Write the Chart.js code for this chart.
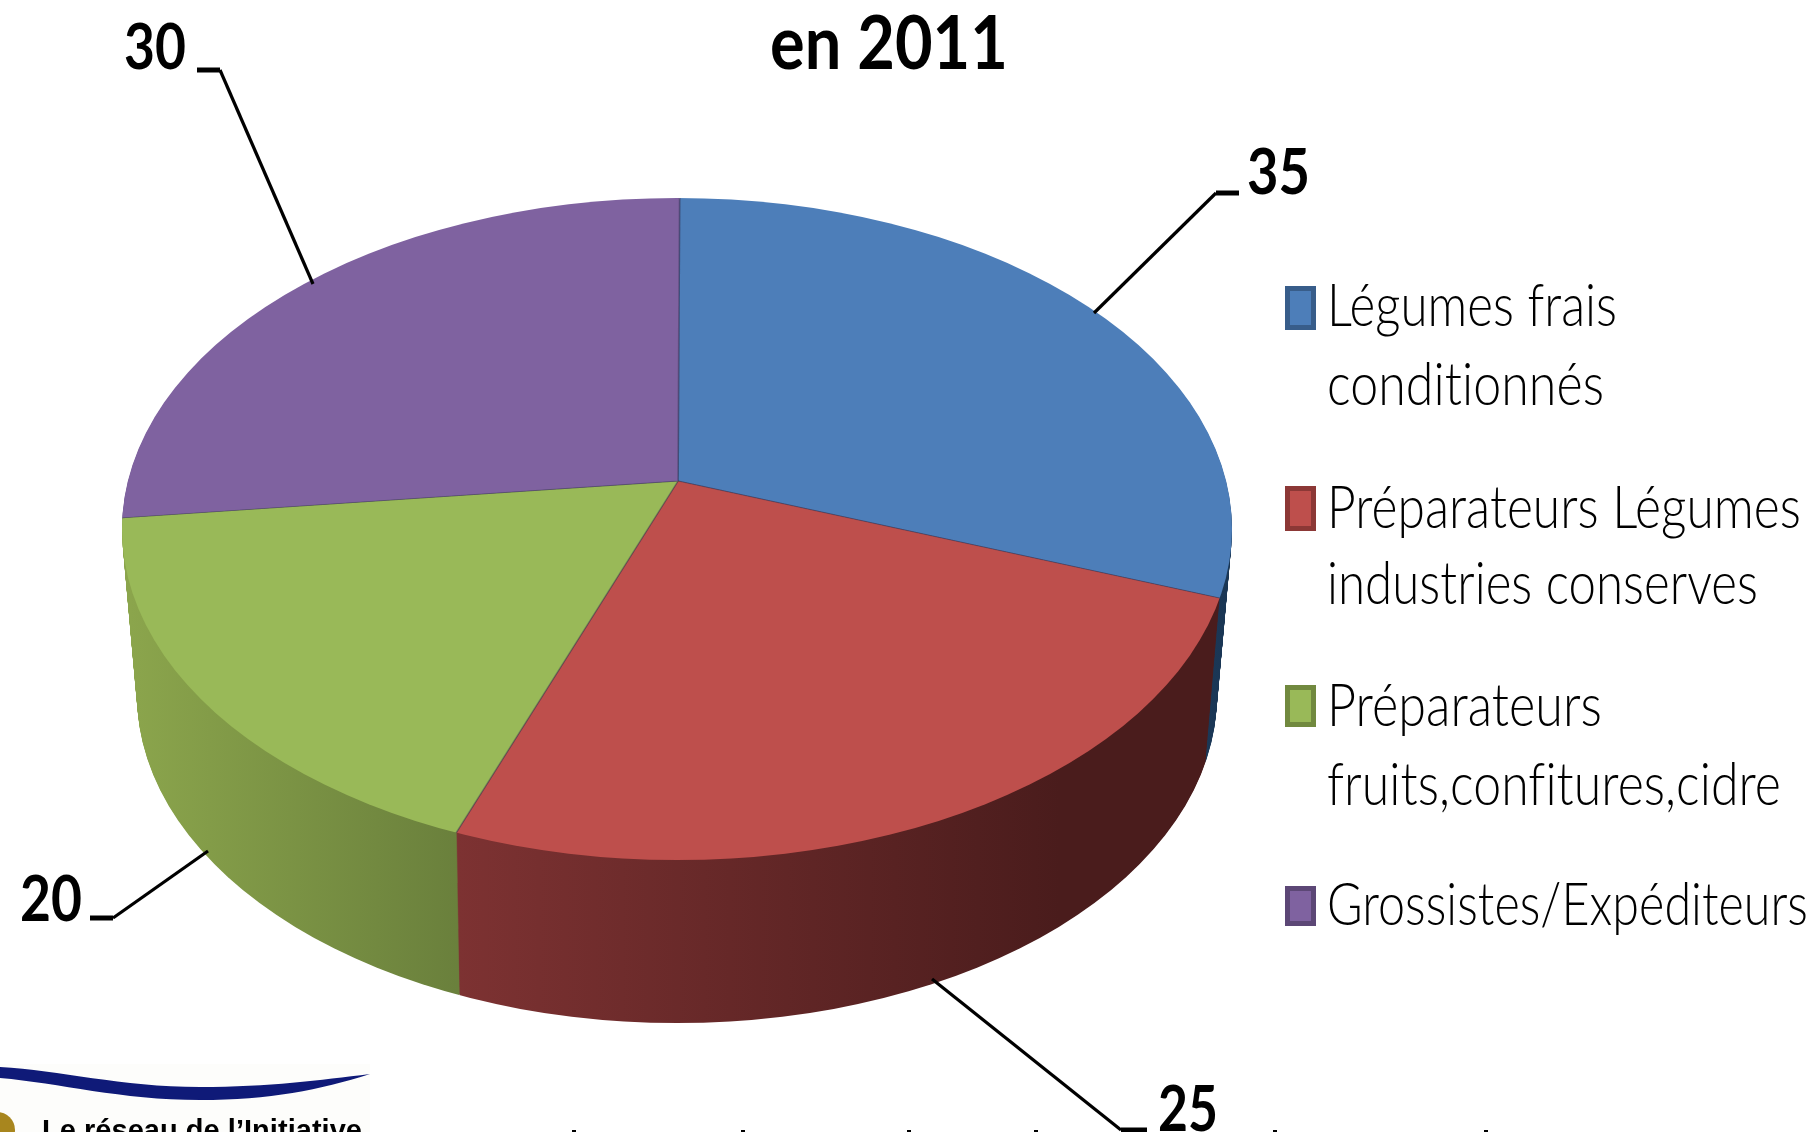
<!DOCTYPE html>
<html><head><meta charset="utf-8">
<style>html,body{margin:0;padding:0;background:#fff}canvas{display:block}</style>
<script src="https://cdn.jsdelivr.net/npm/chart.js@4"></script>
</head><body>
<div style="width:1816px;height:1132px;position:relative"><canvas id="c"></canvas></div>
<script>
const categories = ['Légumes frais conditionnés','Préparateurs Légumes industries conserves','Préparateurs fruits,confitures,cidre','Grossistes/Expéditeurs'];
const values = [35,25,20,30];
const topColors = ['#4d7eb9','#be4f4c','#99b958','#7f62a0'];
const swatchBorders = ['#385d8a','#8c3836','#71893f','#5c4776'];
const wallStops = [['#1f3f63','#1a3654'],['#7d3232','#4a1c1c'],['#8ba54c','#6a803c'],['#5c4776','#4a3a60']];
const titleText = 'en 2011';
// layout only
const legendRows = [
 {box:[1285,286,31,44],lines:[['Légumes frais',326,290],['conditionnés',405,277]]},
 {box:[1285,486,31,45],lines:[['Préparateurs Légumes',528,474],['industries conserves',604,431]]},
 {box:[1285,685,31,42],lines:[['Préparateurs',726,275],['fruits,confitures,cidre',805,454]]},
 {box:[1285,886,31,40],lines:[['Grossistes/Expéditeurs',925,481]]}
];
const labelSpots = [
 {x:1247,y:194,w:63,line:[[1239,193],[1216,193],[1094,313]]},
 {x:1158,y:1131,w:60,line:[[1147,1130],[1121,1130],[932,979]]},
 {x:20,y:921,w:62,line:[[90,918],[113,918],[208,851]]},
 {x:124,y:69,w:62,line:[[197,70],[220,70],[313,284]]}
];
const cutOffTicks = [572,741,907,1034,1273,1484];
const apexTop={x:678,y:481}, apexBottom={x:678,y:648};
const ellTop={cx:677,cy:529,rx:555,ry:331}, ellBottom={cx:677,cy:695,rx:540,ry:328};
const squash=0.47, reach=1000;

const lerp=(a,b,t)=>a+(b-a)*t;
function place(ctx,arc,apex){
  const k=reach/arc.outerRadius;
  ctx.translate(apex.x,apex.y);ctx.scale(k,k*squash);ctx.translate(-arc.x,-arc.y);
}
function clipEll(ctx,e){ctx.beginPath();ctx.ellipse(e.cx,e.cy,e.rx,e.ry,0,0,Math.PI*2);ctx.clip();}
const pie3d={
 id:'pie3d',
 beforeDatasetsDraw(chart){
  const ctx=chart.ctx, arcs=chart.getDatasetMeta(0).data, arc0=arcs[0];
  const k=reach/arc0.outerRadius;
  const steps=Math.round(ellBottom.cy+ellBottom.ry-ellTop.cy-ellTop.ry);
  for(let i=steps;i>=1;i--){
   const t=i/steps;
   const e={cx:lerp(ellTop.cx,ellBottom.cx,t),cy:lerp(ellTop.cy,ellBottom.cy,t),rx:lerp(ellTop.rx,ellBottom.rx,t),ry:lerp(ellTop.ry,ellBottom.ry,t)};
   const ap={x:lerp(apexTop.x,apexBottom.x,t),y:lerp(apexTop.y,apexBottom.y,t)};
   ctx.save();clipEll(ctx,e);place(ctx,arc0,ap);
   arcs.forEach((arc,idx)=>{
    const xs=idx===1?[457,1060]:idx===2?[130,457]:[1100,1230];
    const g=ctx.createLinearGradient(arc0.x+(xs[0]-ap.x)/k,0,arc0.x+(xs[1]-ap.x)/k,0);
    g.addColorStop(0,wallStops[idx][0]);g.addColorStop(1,wallStops[idx][1]);
    const saved=arc.options;
    arc.options=Object.assign({},saved,{backgroundColor:g,borderWidth:0});
    arc.draw(ctx);
    arc.options=saved;
   });
   ctx.restore();
  }
 },
 beforeDatasetDraw(chart){
  const ctx=chart.ctx;ctx.save();clipEll(ctx,ellTop);place(ctx,chart.getDatasetMeta(0).data[0],apexTop);
 },
 afterDatasetDraw(chart){chart.ctx.restore();},
 afterDraw(chart){
  const ctx=chart.ctx;
  ctx.save();
  ctx.letterSpacing='0.05px';
  // legend
  legendRows.forEach((r,i)=>{
   const [x,y,w,h]=r.box;
   ctx.fillStyle=swatchBorders[i];ctx.fillRect(x,y,w,h);
   ctx.fillStyle=topColors[i];ctx.fillRect(x+5,y+5,w-10,h-10);
   ctx.fillStyle='#000';ctx.textAlign='left';ctx.textBaseline='alphabetic';
   ctx.font='300 59px Lato';
   r.lines.forEach(l=>ctx.fillText(l[0],1327,l[1],l[2]));
  });
  // leaders and value labels
  ctx.strokeStyle='#000';
  labelSpots.forEach((s,i)=>{
   ctx.lineWidth=5;ctx.beginPath();ctx.moveTo(s.line[0][0],s.line[0][1]);ctx.lineTo(s.line[1][0],s.line[1][1]);ctx.stroke();
   ctx.lineWidth=3.2;ctx.beginPath();ctx.moveTo(s.line[1][0],s.line[1][1]);ctx.lineTo(s.line[2][0],s.line[2][1]);ctx.stroke();
   ctx.fillStyle='#000';ctx.font='bold 64px Lato';
   ctx.fillText(String(values[i]),s.x,s.y,s.w);
  });
  ctx.font='bold 74px Lato';
  ctx.fillText(titleText,770,69,238);
  // logo
  ctx.fillStyle='#fdfdfb';ctx.fillRect(0,1064,370,68);
  ctx.fillStyle='#0f1a78';ctx.beginPath();ctx.moveTo(0,1067);
  ctx.bezierCurveTo(60,1070,120,1087,200,1087);ctx.bezierCurveTo(270,1087,320,1080,370,1074);
  ctx.bezierCurveTo(320,1090,270,1100,200,1100);ctx.bezierCurveTo(120,1100,60,1083,0,1078);ctx.closePath();ctx.fill();
  ctx.fillStyle='#a8861e';ctx.beginPath();ctx.arc(-3,1130,18,0,Math.PI*2);ctx.fill();
  ctx.fillStyle='#000';ctx.font='bold 29px "Liberation Sans"';ctx.fillText("Le réseau de l’Initiative",42,1140,320);
  cutOffTicks.forEach(x=>ctx.fillRect(x,1130,4,2));
  ctx.restore();
 }
};
new Chart(document.getElementById('c'),{
 type:'pie',
 data:{labels:categories,datasets:[{data:values,backgroundColor:topColors,borderWidth:1,borderColor:'rgba(50,50,80,.35)',clip:false}]},
 options:{responsive:true,maintainAspectRatio:false,animation:false,layout:{padding:0},rotation:0.15,
  plugins:{legend:{display:false},tooltip:{enabled:false}}},
 plugins:[pie3d]
});
</script>
</body></html>
